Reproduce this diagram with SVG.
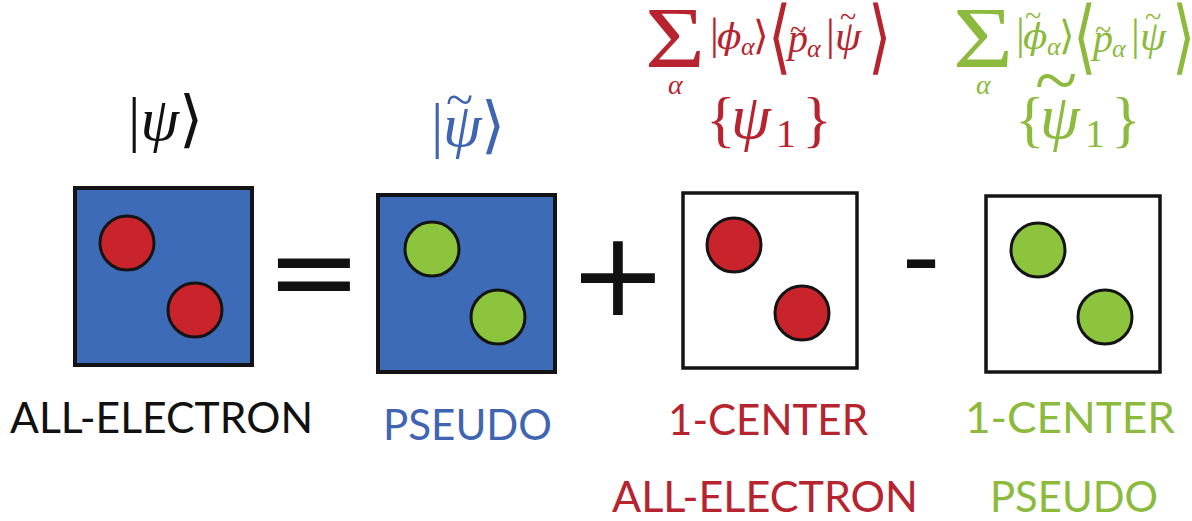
<svg xmlns="http://www.w3.org/2000/svg" width="1192" height="521" viewBox="0 0 1192 521">
<style>
.bb{fill:#3d6bb7;stroke:#141414;stroke-width:4}
.bw{fill:#ffffff;stroke:#141414;stroke-width:3.5}
.cr{fill:#c9232b;stroke:#141414;stroke-width:3}
.cg{fill:#8cc43e;stroke:#141414;stroke-width:3}
.lbl{font-family:Lato,'Open Sans','Liberation Sans',sans-serif;font-size:43px}
.m{font-family:'Liberation Serif','DejaVu Serif',serif}
.mi{font-family:'Liberation Serif','DejaVu Serif',serif;font-style:italic}
.ph{font-family:'DejaVu Serif',serif;font-style:italic}
.br{font-family:'DejaVu Sans',sans-serif;font-weight:200}
.op{font-family:'DejaVu Sans',sans-serif;fill:#111111}
.k{fill:#111111}
.b{fill:#3f64b2}
.r{fill:#b7232e}
.g{fill:#8cba3c}
</style>
<rect width="1192" height="521" fill="#ffffff"/>

<g id="node-all-electron">
  <rect class="bb" x="75" y="188" width="177" height="177"/>
  <circle class="cr" cx="127" cy="243" r="27"/>
  <circle class="cr" cx="195" cy="310" r="27"/>
  <text class="k" x="128" y="140" font-size="62"><tspan class="m">|</tspan><tspan class="mi">ψ</tspan><tspan class="br">⟩</tspan></text>
  <text class="lbl k" x="10" y="433" textLength="303" lengthAdjust="spacingAndGlyphs">ALL-ELECTRON</text>
</g>

<g id="node-pseudo">
  <rect class="bb" x="378" y="195" width="177" height="177"/>
  <circle class="cg" cx="432" cy="249" r="27"/>
  <circle class="cg" cx="498" cy="317" r="27"/>
  <text class="b" font-size="62"><tspan class="m" x="431" y="146">|</tspan><tspan class="mi" x="443" y="146">ψ</tspan><tspan class="m" x="446" y="116" font-size="50">~</tspan><tspan class="br" x="481" y="146">⟩</tspan></text>
  <text class="lbl b" x="383" y="440" textLength="169" lengthAdjust="spacingAndGlyphs">PSEUDO</text>
</g>

<g id="node-one-center-ae">
  <rect class="bw" x="683" y="193" width="174" height="175"/>
  <circle class="cr" cx="734" cy="245" r="27"/>
  <circle class="cr" cx="802" cy="313" r="27"/>
  <text class="m r" x="645" y="67" font-size="86" transform="translate(645 0) scale(1.2 1) translate(-645 0)">Σ</text>
  <text class="mi r" x="668" y="94" font-size="28">α</text>
  <text class="r"><tspan class="m" x="710" y="49" font-size="44">|</tspan><tspan class="ph" x="717" y="49" font-size="36">ϕ</tspan><tspan class="mi" x="741" y="55" font-size="26">α</tspan><tspan class="br" x="753" y="49" font-size="40">⟩</tspan></text>
  <text class="br r" x="768" y="64" font-size="60" transform="translate(0 64) scale(1 1.35) translate(0 -64)">⟨</text>
  <text class="r"><tspan class="mi" x="788" y="52" font-size="40">p</tspan><tspan class="m" x="790" y="40" font-size="30">~</tspan><tspan class="mi" x="807" y="57" font-size="26">α</tspan><tspan class="m" x="826" y="50" font-size="44">|</tspan><tspan class="mi" x="835" y="50" font-size="42">ψ</tspan><tspan class="m" x="840" y="27" font-size="30">~</tspan></text>
  <text class="br r" x="868" y="64" font-size="60" transform="translate(0 64) scale(1 1.35) translate(0 -64)">⟩</text>
  <text class="r"><tspan class="m" x="706" y="140" font-size="62">{</tspan><tspan class="mi" x="731" y="138" font-size="64">ψ</tspan><tspan class="m" x="776" y="147" font-size="40">1</tspan><tspan class="m" x="802" y="140" font-size="62">}</tspan></text>
  <text class="lbl r" x="668" y="435" textLength="200" lengthAdjust="spacingAndGlyphs">1-CENTER</text>
  <text class="lbl r" x="612" y="512" textLength="306" lengthAdjust="spacingAndGlyphs">ALL-ELECTRON</text>
</g>

<g id="node-one-center-pseudo">
  <rect class="bw" x="986" y="196" width="174" height="176"/>
  <circle class="cg" cx="1038" cy="250" r="27"/>
  <circle class="cg" cx="1105" cy="317" r="27"/>
  <text class="m g" x="953" y="67" font-size="86" transform="translate(953 0) scale(1.2 1) translate(-953 0)">Σ</text>
  <text class="mi g" x="976" y="94" font-size="28">α</text>
  <text class="g"><tspan class="m" x="1016" y="49" font-size="44">|</tspan><tspan class="ph" x="1023" y="49" font-size="36">ϕ</tspan><tspan class="m" x="1025" y="26" font-size="30">~</tspan><tspan class="mi" x="1047" y="55" font-size="26">α</tspan><tspan class="br" x="1059" y="49" font-size="40">⟩</tspan></text>
  <text class="br g" x="1073" y="64" font-size="60" transform="translate(0 64) scale(1 1.35) translate(0 -64)">⟨</text>
  <text class="g"><tspan class="mi" x="1093" y="52" font-size="40">p</tspan><tspan class="m" x="1095" y="40" font-size="30">~</tspan><tspan class="mi" x="1112" y="57" font-size="26">α</tspan><tspan class="m" x="1131" y="50" font-size="44">|</tspan><tspan class="mi" x="1140" y="50" font-size="42">ψ</tspan><tspan class="m" x="1145" y="27" font-size="30">~</tspan></text>
  <text class="br g" x="1172" y="64" font-size="60" transform="translate(0 64) scale(1 1.35) translate(0 -64)">⟩</text>
  <text class="g"><tspan class="m" x="1015" y="140" font-size="62">{</tspan><tspan class="mi" x="1040" y="138" font-size="64">ψ</tspan><tspan class="m" x="1035" y="106" font-size="78">~</tspan><tspan class="m" x="1085" y="147" font-size="40">1</tspan><tspan class="m" x="1111" y="140" font-size="62">}</tspan></text>
  <text class="lbl g" x="965" y="433" textLength="210" lengthAdjust="spacingAndGlyphs">1-CENTER</text>
  <text class="lbl g" x="990" y="512" textLength="168" lengthAdjust="spacingAndGlyphs">PSEUDO</text>
</g>

<g id="operators">
  <text class="op" x="314" y="311" font-size="115" text-anchor="middle">=</text>
  <text class="op" x="618" y="315" font-size="118" text-anchor="middle">+</text>
  <text class="op" x="921" y="293" font-size="107" text-anchor="middle">-</text>
</g>

<g id="connectors"></g>
</svg>
